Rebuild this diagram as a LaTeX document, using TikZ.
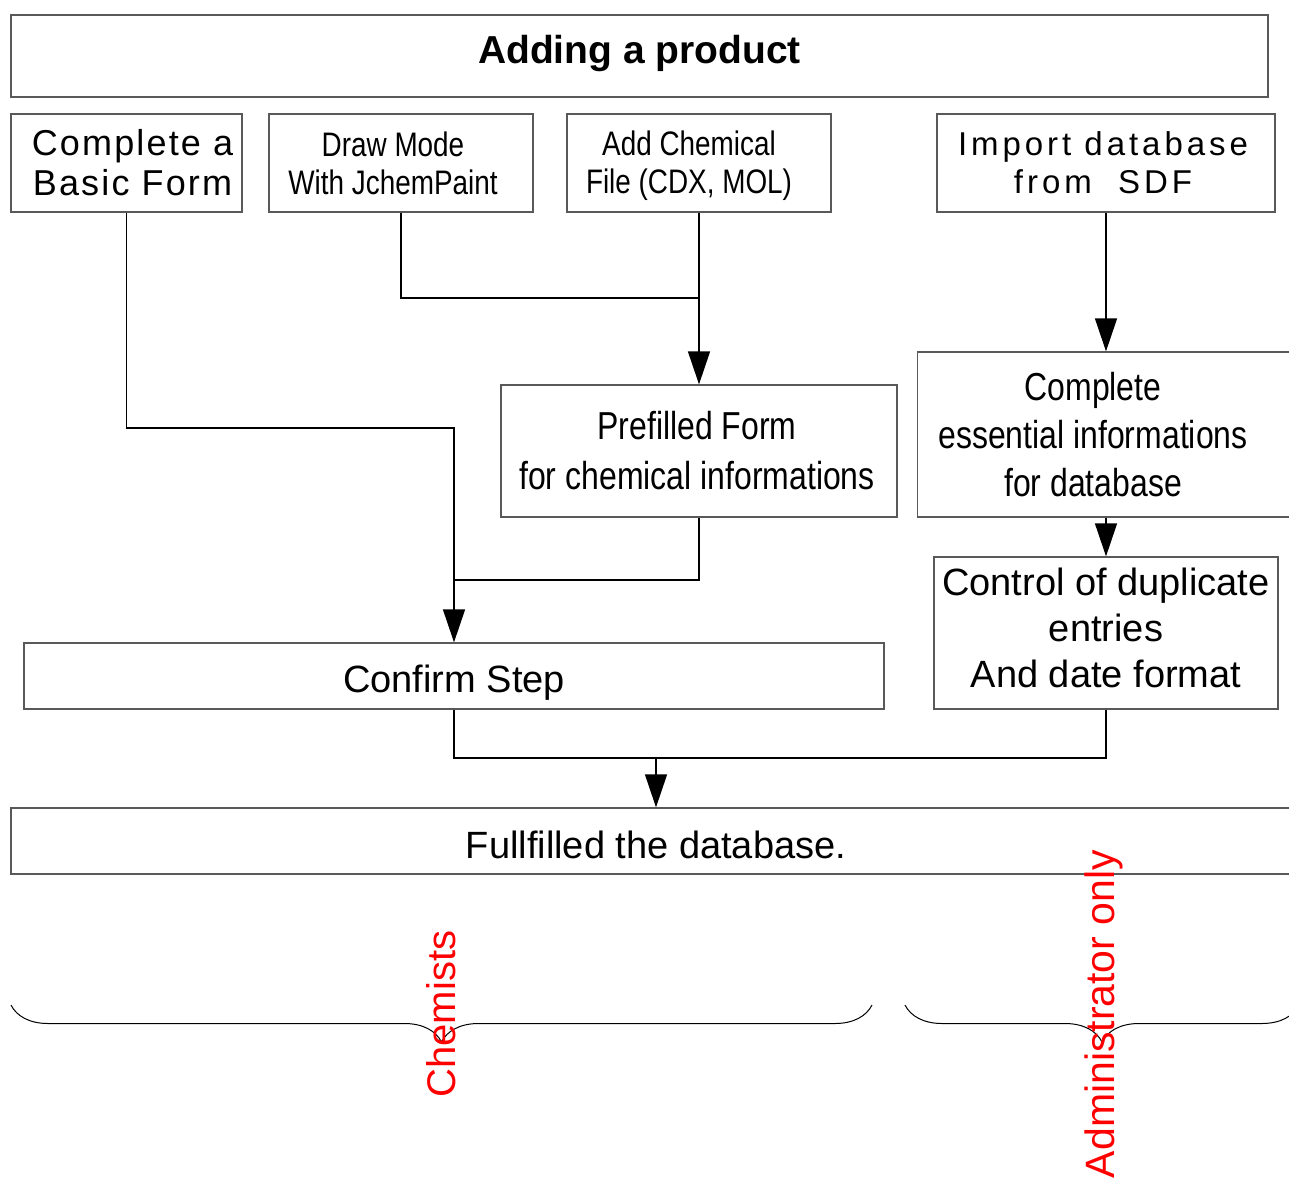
\documentclass[tikz,border=0pt]{standalone}
\usepackage{fontspec}
\setmainfont{Liberation Sans}
\newfontfamily\narrowfont[FakeStretch=0.82]{Liberation Sans}
\newfontfamily\spacedfont[LetterSpace=6]{Liberation Sans}
\newfontfamily\widespacedfont[LetterSpace=12]{Liberation Sans}
\usepackage{tikz}
\usetikzlibrary{arrows.meta}
\usetikzlibrary{decorations.pathreplacing}
\definecolor{framegrey}{rgb}{0.35, 0.35, 0.35}
\definecolor{groupred}{rgb}{1.0, 0.0, 0.0}

\tikzset{
  box/.style={draw=framegrey, line width=1.3pt, align=center, inner sep=0pt},
  flow/.style={line width=1.3pt, -{Triangle[length=33pt,width=22pt]}},
  link/.style={line width=1.3pt},
  group/.style={text=groupred, rotate=90, inner sep=0pt, font=\fontsize{40}{48}\selectfont},
  bracket/.style={line width=1pt, decorate, decoration={brace, mirror, amplitude=37pt}},
}

\begin{document}
\begin{tikzpicture}[x=1pt, y=-1pt]
	\useasboundingbox (0,0) rectangle (1289,1180);
	\clip (0,0) rectangle (1289,1180);

	% title
	\node[box, minimum width=1257pt, minimum height=82pt, text depth=14pt, font=\fontsize{39}{46}\selectfont\bfseries] (title) at (639.5,56) {Adding a product};

	% ways in
	\node[box, minimum width=231pt, minimum height=98pt, font=\fontsize{36}{40}\selectfont\spacedfont] (basic) at (126.5,163) {\rule{12pt}{0pt}Complete a\\\rule{12pt}{0pt}Basic Form};
	\node[box, minimum width=264pt, minimum height=98pt, font=\fontsize{34}{38}\selectfont\narrowfont] (drawmode) at (401,163) {Draw Mode\rule{16pt}{0pt}\\With JchemPaint\rule{16pt}{0pt}};
	\node[box, minimum width=264pt, minimum height=98pt, text depth=1pt, font=\fontsize{34}{38}\selectfont\narrowfont] (addfile) at (699,163) {Add Chemical\rule{20pt}{0pt}\\File (CDX, MOL)\rule{20pt}{0pt}};
	\node[box, minimum width=338pt, minimum height=98pt, font=\fontsize{33}{38}\selectfont\widespacedfont] (import) at (1106,163) {Import database\rule{6pt}{0pt}\\from\ \ SDF\rule{6pt}{0pt}};

	% middle
	\node[box, minimum width=396pt, minimum height=132pt, font=\fontsize{39}{50}\selectfont\narrowfont] (prefilled) at (699,451) {Prefilled Form\rule{4pt}{0pt}\\for chemical informations\rule{4pt}{0pt}};
	\node[box, minimum width=377pt, minimum height=165pt, font=\fontsize{39}{48}\selectfont\narrowfont] (essential) at (1106,434.5) {Complete\rule{26pt}{0pt}\\essential informations\rule{26pt}{0pt}\\for database\rule{26pt}{0pt}};
	\node[box, minimum width=344pt, minimum height=152pt, text depth=10pt, font=\fontsize{38}{46}\selectfont] (duplicate) at (1106,633) {Control of duplicate\\entries\\And date format};
	\node[box, minimum width=860pt, minimum height=66pt, text height=33pt, text depth=0pt, font=\fontsize{38}{44}\selectfont] (confirm) at (454,676) {Confirm Step};

	% bottom
	\node[box, minimum width=1290pt, minimum height=66pt, text height=35pt, text depth=0pt, font=\fontsize{38}{44}\selectfont] (database) at (656,841) {Fullfilled the database.};

	\coordinate (bend1) at (454,428);
	\coordinate (bend2) at (699,298);
	\coordinate (bend3) at (454,580);
	\coordinate (bend4) at (1106,758);
	\coordinate (bend5) at (656,758);

	\draw[flow] (basic.south) |- (bend1) -- (confirm.north);
	\draw[link] (drawmode.south) |- (bend2);
	\draw[flow] (addfile.south) -- (prefilled.north);
	\draw[link] (prefilled.south) |- (bend3);
	\draw[flow] (import.south) -- (essential.north);
	\draw[flow] (essential.south) -- (duplicate.north);
	\draw[link] (confirm.south) |- (bend4) -- (duplicate.south);
	\draw[flow] (bend5) -- (database.north);

	% who does it
	\coordinate (chemL) at (11,1005);
	\coordinate (chemR) at (872,1005);
	\coordinate (adminL) at (905,1005);
	\coordinate (adminR) at (1299,1005);
	\draw[bracket] (chemL) -- (chemR);
	\draw[bracket] (adminL) -- (adminR);

	\node[group] (chemists) at (441,1014) {Chemists};
	\node[group, font=\fontsize{41}{48}\selectfont] (admin) at (1104,1014) {Administrator only};
\end{tikzpicture}
\end{document}
